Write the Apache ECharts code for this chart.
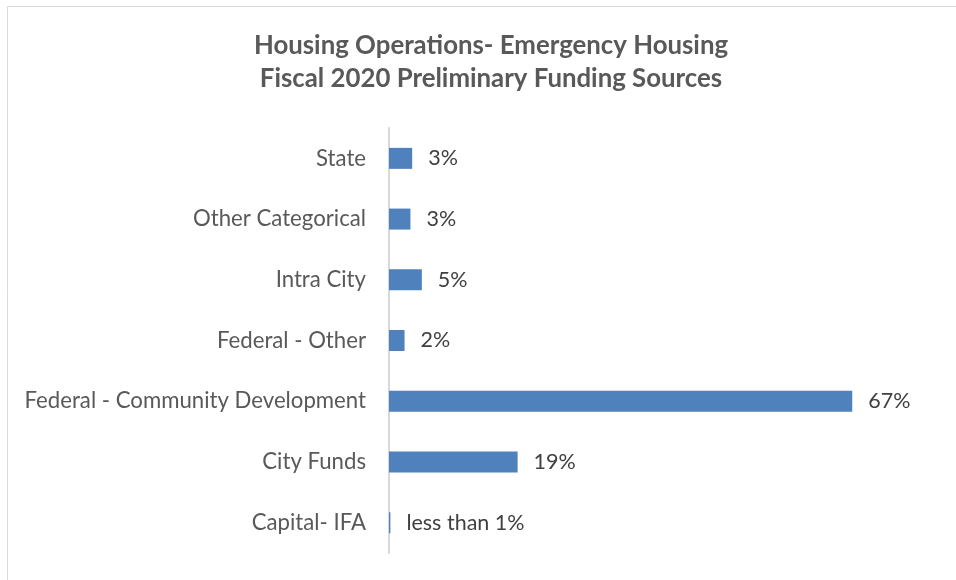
<!DOCTYPE html>
<html>
<head>
<meta charset="utf-8">
<script src="https://cdn.jsdelivr.net/npm/echarts@6/dist/echarts.min.js"></script>
<style>html,body{margin:0;padding:0;background:#fff}#c{width:956px;height:580px}</style>
</head>
<body>
<div id="c"></div>
<script>
var categories = ["State", "Other Categorical", "Intra City", "Federal - Other", "Federal - Community Development", "City Funds", "Capital- IFA"];
var values = [3.35, 3.1, 4.75, 2.25, 67, 18.6, 0.2];
var valueLabels = ["3%", "3%", "5%", "2%", "67%", "19%", "less than 1%"];
var titleLines = ["Housing Operations- Emergency Housing", "Fiscal 2020 Preliminary Funding Sources"];

var FONT = "Lato";
var chart = echarts.init(document.getElementById('c'), null, {renderer: 'canvas'});
chart.setOption({
  animation: false,
  backgroundColor: '#fff',
  graphic: [{
    type: 'rect', shape: {x: 7.5, y: 6.5, width: 1000, height: 1000},
    style: {fill: 'none', stroke: '#d9d9d9', lineWidth: 1}, silent: true
  }],
  title: {
    text: titleLines.join('\n'),
    left: 486, top: 24, textAlign: 'center',
    textStyle: {fontFamily: FONT, fontWeight: 'bold', fontSize: 25.8, color: '#595959', lineHeight: 33}
  },
  grid: {left: 389, top: 128, bottom: 27, right: 83},
  xAxis: {type: 'value', min: 0, max: 70, show: false},
  yAxis: {
    type: 'category', data: categories, inverse: true,
    axisLine: {lineStyle: {color: '#d9d9d9', width: 2}},
    axisTick: {show: false},
    axisLabel: {fontFamily: FONT, fontSize: 22.2, color: '#595959', margin: 23}
  },
  series: [{
    type: 'bar', data: values, barWidth: 21,
    itemStyle: {color: '#4f81bd'},
    label: {
      show: true, position: 'right', distance: 16,
      fontFamily: FONT, fontSize: 21.5, color: '#404040',
      formatter: function (p) { return valueLabels[p.dataIndex]; }
    }
  }]
});
</script>
</body>
</html>
